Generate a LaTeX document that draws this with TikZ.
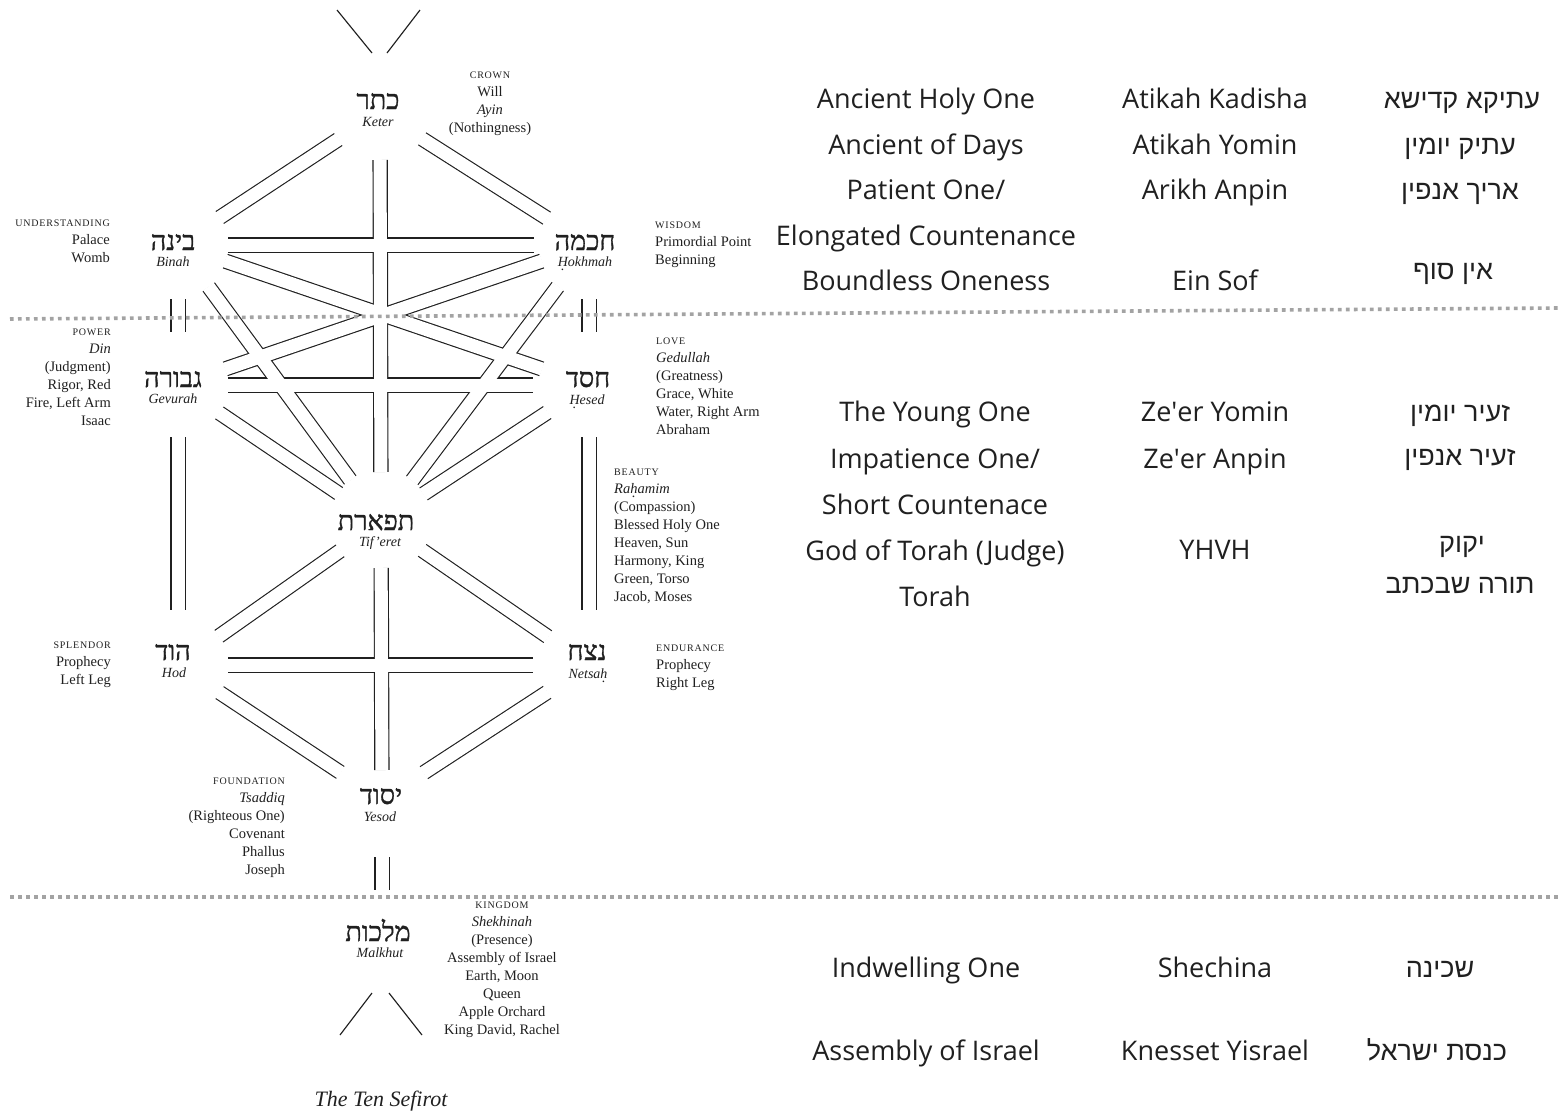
\documentclass[tikz,border=0pt]{standalone}
\usepackage{fontspec}
\setmainfont{Liberation Serif}
\newfontfamily\hebserif[Script=Hebrew,FakeBold=1.2]{Liberation Serif}
\newfontfamily\hebsans[Script=Hebrew]{Liberation Sans}
\newfontfamily\colfont{Open Sans}
\TeXXeTstate=1
\usetikzlibrary{calc}
\definecolor{ink}{HTML}{202020}
\definecolor{dotc}{HTML}{A3A3A3}
\newcommand\hd[1]{{\fontsize{10}{10}\selectfont\addfontfeature{LetterSpace=8}#1}}
\newcommand\dotu[1]{\ooalign{#1\cr\hidewidth\smash{\raisebox{-0.62ex}{.}}\hidewidth\cr}}
\newcommand\lblock[5]{\foreach \t [count=\i] in {#5} {\node[lab,anchor=#3] (#4\i) at (#1,#2+18*\i-18) {\t};}}
\newcommand\chanlist{ket/bin/50/50, ket/hok/50/50, ket/tif/48/50, bin/hok/50/55, bin/gev/54/53, hok/hes/54/53, bin/hes/50/50, hok/gev/50/50, bin/tif/52/52, hok/tif/52/52, gev/hes/50/56, gev/tif/50/51, hes/tif/50/51, gev/hod/52/55, hes/net/52/55, tif/hod/50/50, tif/net/50/50, hod/net/50/56, tif/yes/46/30, hod/yes/50/50, net/yes/50/50, yes/mal/57/45}
\tikzset{
  chanout/.style={line width=15.3pt, ink},
  chanin/.style={line width=13pt, white},
  thin/.style={line width=1.15pt, ink},
  heb/.style={font=\hebserif\fontsize{27}{30}\selectfont, anchor=base, inner sep=0, text=ink},
  tr/.style={font=\fontsize{14}{16}\selectfont\itshape, anchor=base, inner sep=0, text=ink},
  lab/.style={font=\fontsize{14.5}{18}\selectfont, inner sep=0, text=ink},
  col/.style={font=\colfont\fontsize{27}{30}\selectfont, anchor=base, inner sep=0, text=ink},
  hcol/.style={font=\hebsans\fontsize{27}{30}\selectfont, anchor=base, inner sep=0, text=ink},
  dotline/.style={dotc, line width=3.6pt, dash pattern=on 3.6pt off 4.4pt}
}
\begin{document}
\begin{tikzpicture}[x=1pt,y=-1pt]
\useasboundingbox (0,0) rectangle (1559,1112);
\fill[white] (0,0) rectangle (1559,1112);
% sefirot anchor points
\coordinate (ket) at (380,112);
\coordinate (bin) at (178,245);
\coordinate (hok) at (589,245);
\coordinate (gev) at (178,385);
\coordinate (hes) at (589,385);
\coordinate (tif) at (381,522);
\coordinate (hod) at (178,665);
\coordinate (net) at (589,665);
\coordinate (yes) at (382,800);
\coordinate (mal) at (382,935);
% channels (double lines)
\foreach \a/\b/\s/\e in \chanlist {\draw[chanout, shorten <=\s pt, shorten >=\e pt] (\a) -- (\b);}
\foreach \a/\b/\s/\e in \chanlist {\draw[chanin, shorten <=\s pt-0.6pt, shorten >=\e pt-0.6pt] (\a) -- (\b);}
% top and bottom V
\coordinate (tva) at (337,10); \coordinate (tvb) at (372,53);
\coordinate (tvc) at (420,10); \coordinate (tvd) at (387,53);
\draw[thin] (tva) -- (tvb); \draw[thin] (tvc) -- (tvd);
\coordinate (bva) at (340,1035); \coordinate (bvb) at (372,993);
\coordinate (bvc) at (422,1035); \coordinate (bvd) at (389,993);
\draw[thin] (bva) -- (bvb); \draw[thin] (bvc) -- (bvd);
% dotted separators
\coordinate (d1a) at (10,319); \coordinate (d1b) at (1559,308);
\coordinate (d2a) at (10,897); \coordinate (d2b) at (1559,897);
\draw[dotline] (d1a) -- (d1b);
\draw[dotline] (d2a) -- (d2b);
% sefirot labels
\node[heb] (ketH) at (378,109) {\beginR כתר\endR};
\node[tr] (ketL) at (378,126.5) {Keter};
\node[heb] (binH) at (173,250) {\beginR בינה\endR};
\node[tr] (binL) at (173,266.5) {Binah};
\node[heb] (hokH) at (585,250) {\beginR חכמה\endR};
\node[tr] (hokL) at (585,266.5) {\dotu{H}okhmah};
\node[heb] (gevH) at (173,387) {\beginR גבורה\endR};
\node[tr] (gevL) at (173,403.5) {Gevurah};
\node[heb] (hesH) at (588,387) {\beginR חסד\endR};
\node[tr] (hesL) at (587,404.5) {\dotu{H}esed};
\node[heb] (tifH) at (376,530) {\beginR תפארת\endR};
\node[tr] (tifL) at (380,546.5) {Tif’eret};
\node[heb] (hodH) at (173,660) {\beginR הוד\endR};
\node[tr] (hodL) at (174,677.5) {Hod};
\node[heb] (netH) at (587,660) {\beginR נצח\endR};
\node[tr] (netL) at (588,678.5) {Netsa\dotu{h}};
\node[heb] (yesH) at (381,804) {\beginR יסוד\endR};
\node[tr] (yesL) at (380,821.5) {Yesod};
\node[heb] (malH) at (378,941) {\beginR מלכות\endR};
\node[tr] (malL) at (380,957.5) {Malkhut};
\node[tr, font=\fontsize{22}{26}\selectfont\itshape] (title) at (381,1106) {The Ten Sefirot};
% attribute blocks
\lblock{490}{78}{base}{cr}{{\hd{CROWN}},Will,{\textit{Ayin}},(Nothingness)}
\lblock{110}{226}{base east}{un}{{\hd{UNDERSTANDING}},Palace,Womb}
\lblock{655}{228}{base west}{wi}{{\hd{WISDOM}},Primordial Point,Beginning}
\lblock{111}{335.5}{base east}{po}{{\hd{POWER}},{\textit{Din}},(Judgment),{Rigor, Red},{Fire, Left Arm},Isaac}
\lblock{656}{344.5}{base west}{lo}{{\hd{LOVE}},{\textit{Gedullah}},(Greatness),{Grace, White},{Water, Right Arm},Abraham}
\lblock{614}{475.5}{base west}{be}{{\hd{BEAUTY}},{\textit{Ra\dotu{h}amim}},(Compassion),Blessed Holy One,{Heaven, Sun},{Harmony, King},{Green, Torso},{Jacob, Moses}}
\lblock{111}{648.5}{base east}{sp}{{\hd{SPLENDOR}},Prophecy,Left Leg}
\lblock{656}{651.5}{base west}{en}{{\hd{ENDURANCE}},Prophecy,Right Leg}
\lblock{285}{784.5}{base east}{fo}{{\hd{FOUNDATION}},{\textit{Tsaddiq}},(Righteous One),Covenant,Phallus,Joseph}
\lblock{502}{908.5}{base}{ki}{{\hd{KINGDOM}},{\textit{Shekhinah}},(Presence),Assembly of Israel,{Earth, Moon},Queen,Apple Orchard,{King David, Rachel}}
% right columns: top group
\node[col] (e1) at (926,108) {Ancient Holy One};
\node[col] (e2) at (926,154) {Ancient of Days};
\node[col] (e3) at (926,199) {Patient One/};
\node[col] (e4) at (926,245) {Elongated Countenance};
\node[col] (e5) at (926,290) {Boundless Oneness};
\node[col] (t1) at (1215,108) {Atikah Kadisha};
\node[col] (t2) at (1215,154) {Atikah Yomin};
\node[col] (t3) at (1215,199) {Arikh Anpin};
\node[col] (t5) at (1215,290) {Ein Sof};
\node[hcol] (h1) at (1462,108) {\beginR עתיקא קדישא\endR};
\node[hcol] (h2) at (1460,154) {\beginR עתיק יומין\endR};
\node[hcol] (h3) at (1460,199) {\beginR אריך אנפין\endR};
\node[hcol] (h5) at (1453,279) {\beginR אין סוף\endR};
% middle group
\node[col] (e6) at (935,421) {The Young One};
\node[col] (e7) at (935,468) {Impatience One/};
\node[col] (e8) at (935,514) {Short Countenace};
\node[col] (e9) at (935,560) {God of Torah (Judge)};
\node[col] (e10) at (935,606) {Torah};
\node[col] (t6) at (1215,421) {Ze\textquotesingle er Yomin};
\node[col] (t7) at (1215,468) {Ze\textquotesingle er Anpin};
\node[col] (t9) at (1215,559) {YHVH};
\node[hcol] (h6) at (1460,421) {\beginR זעיר יומין\endR};
\node[hcol] (h7) at (1460,465) {\beginR זעיר אנפין\endR};
\node[hcol] (h9) at (1462,552) {\beginR יקוק\endR};
\node[hcol] (h10) at (1460,593) {\beginR תורה שבכתב\endR};
% bottom group
\node[col] (e11) at (926,977) {Indwelling One};
\node[col] (e12) at (926,1060) {Assembly of Israel};
\node[col] (t11) at (1215,977) {Shechina};
\node[col] (t12) at (1215,1060) {Knesset Yisrael};
\node[hcol] (h11) at (1440,977) {\beginR שכינה\endR};
\node[hcol] (h12) at (1437,1060) {\beginR כנסת ישראל\endR};
\end{tikzpicture}
\end{document}
